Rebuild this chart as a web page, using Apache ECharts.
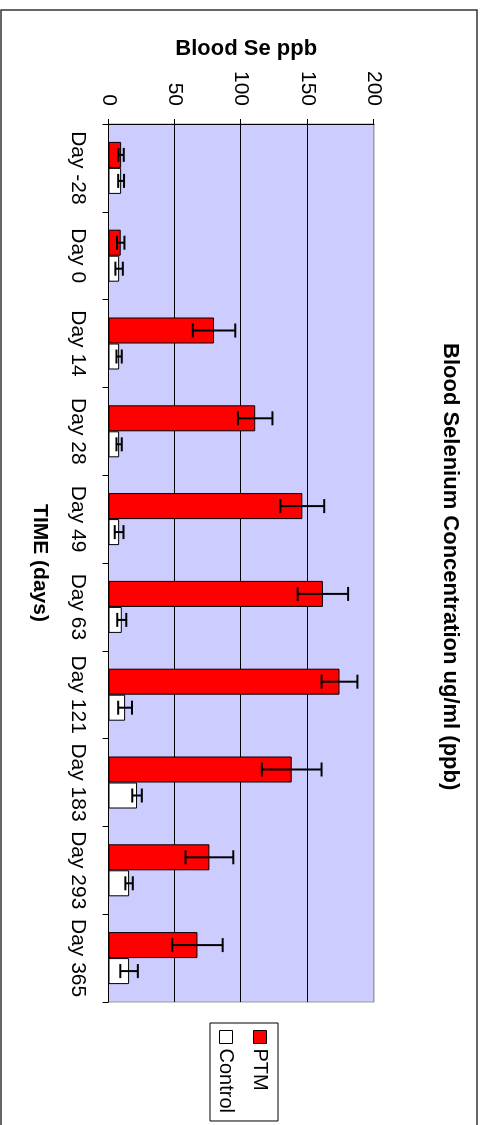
<!DOCTYPE html>
<html>
<head>
<meta charset="utf-8">
<script src="https://cdn.jsdelivr.net/npm/echarts@6/dist/echarts.min.js"></script>
<style>
  html, body { margin: 0; padding: 0; background: #fff; overflow: hidden; }
  #wrap { position: relative; width: 485px; height: 1125px; overflow: hidden; background: #fff; }
  #chart { position: absolute; left: 0; top: 0; width: 1125px; height: 485px;
           transform-origin: 0 0; transform: translate(485px, 0) rotate(90deg); }
</style>
</head>
<body>
<div id="wrap"><div id="chart"></div></div>
<script>
// ---- data ----
const categories = ['Day -28', 'Day 0', 'Day 14', 'Day 28', 'Day 49', 'Day 63', 'Day 121', 'Day 183', 'Day 293', 'Day 365'];
const ptmValues  = [9.5, 9.2, 79.5, 110.5, 146, 161.5, 174, 138, 76, 67];
const ptmErrors  = [2, 2.8, 16, 13, 16.5, 19, 13.5, 22.5, 18, 19];
const ctrlValues = [9.5, 8, 8, 8, 8, 10, 12.5, 21.5, 15.5, 15.5];
const ctrlErrors = [2.2, 2.8, 2, 2, 3.3, 3.4, 5.2, 3.6, 2.8, 6.6];
const valueTicks = { min: 0, max: 200, interval: 50 };

const FONT = 'Liberation Sans, Arial, sans-serif';
const BAR_W = 26;

function errorSeries(name, values, errors, offset) {
  return {
    name: name + ' error',
    type: 'custom',
    z: 10,
    silent: true,
    data: values.map((v, i) => [i, v, errors[i]]),
    encode: { x: 0, y: 1 },
    renderItem: function (params, api) {
      const i = api.value(0), m = api.value(1), e = api.value(2);
      const hi = api.coord([i, m + e]);
      const lo = api.coord([i, m - e]);
      const x = hi[0] + offset;
      const half = 7;
      const st = { stroke: '#000', lineWidth: 2 };
      return {
        type: 'group',
        children: [
          { type: 'line', shape: { x1: x, y1: hi[1], x2: x, y2: lo[1] }, style: st },
          { type: 'line', shape: { x1: x - half, y1: hi[1], x2: x + half, y2: hi[1] }, style: st },
          { type: 'line', shape: { x1: x - half, y1: lo[1], x2: x + half, y2: lo[1] }, style: st }
        ]
      };
    }
  };
}

const chart = echarts.init(document.getElementById('chart'), null, { width: 1125, height: 485 });
chart.setOption({
  animation: false,
  backgroundColor: '#fff',
  textStyle: { fontFamily: FONT, color: '#000' },
  graphic: [{
    type: 'rect', silent: true, z: -1,
    shape: { x: 10, y: 8, width: 1200, height: 476 },
    style: { fill: 'none', stroke: '#333', lineWidth: 1.5 }
  }],
  title: {
    text: 'Blood Selenium Concentration ug/ml (ppb)',
    left: 343, top: 24, padding: 0,
    textStyle: { fontFamily: FONT, fontWeight: 'bold', fontSize: 22, color: '#000' }
  },
  legend: {
    data: ['PTM', 'Control'],
    orient: 'vertical',
    left: 1023, top: 207,
    padding: [8, 8, 6, 7],
    itemGap: 14,
    itemWidth: 13, itemHeight: 13,
    icon: 'rect',
    borderColor: '#000', borderWidth: 1,
    itemStyle: { borderColor: '#000', borderWidth: 1 },
    textStyle: { fontFamily: FONT, fontSize: 20, color: '#000' }
  },
  grid: {
    left: 124, right: 123, top: 111, bottom: 108.5,
    show: true, backgroundColor: '#ccccff', borderColor: '#999', borderWidth: 1
  },
  xAxis: {
    type: 'category',
    data: categories,
    position: 'bottom',
    axisLine: { lineStyle: { color: '#000', width: 1 } },
    axisTick: { show: true, length: 6, lineStyle: { color: '#000' } },
    axisLabel: { interval: 0, margin: 20, fontSize: 21, fontFamily: FONT, color: '#000' },
    name: 'TIME (days)',
    nameLocation: 'middle',
    nameGap: 58,
    nameTextStyle: { fontFamily: FONT, fontWeight: 'bold', fontSize: 21, color: '#000' }
  },
  yAxis: {
    type: 'value',
    min: valueTicks.min, max: valueTicks.max, interval: valueTicks.interval,
    axisLine: { show: true, lineStyle: { color: '#000', width: 1 } },
    axisTick: { show: true, length: 5, lineStyle: { color: '#000' } },
    axisLabel: { margin: 18, fontSize: 21, fontFamily: FONT, color: '#000' },
    splitLine: { show: true, lineStyle: { color: ['#000', '#000', '#000', '#000', '#999'], width: 1 } },
    name: 'Blood Se ppb',
    nameLocation: 'middle',
    nameGap: 62,
    nameTextStyle: { fontFamily: FONT, fontWeight: 'bold', fontSize: 22, color: '#000', padding: [0, 0, 0, 10] }
  },
  series: [
    {
      name: 'PTM', type: 'bar', data: ptmValues,
      barWidth: BAR_W, barGap: '0%',
      itemStyle: { color: '#ff0000', borderColor: '#000', borderWidth: 1 }
    },
    {
      name: 'Control', type: 'bar', data: ctrlValues,
      barWidth: BAR_W, barGap: '0%',
      itemStyle: { color: '#ffffff', borderColor: '#000', borderWidth: 1 }
    },
    errorSeries('PTM', ptmValues, ptmErrors, -BAR_W / 2),
    errorSeries('Control', ctrlValues, ctrlErrors, BAR_W / 2)
  ]
});
</script>
</body>
</html>
